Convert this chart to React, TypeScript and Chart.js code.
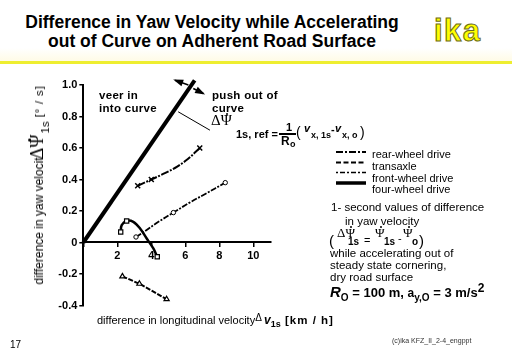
import React, { useEffect, useRef } from "react";
import { Chart, registerables } from "chart.js";

Chart.register(...registerables);

// ---------- data ----------
const xTicksStep = 2;
const yTicksStep = 0.2;
const xRange = [0, 11];
const yRange = [-0.4, 1.0];

// reference line  Δψ_1s,ref = (1/R0)·Δv
const refX = [0, 6.55];
const refY = [0, 1.03];

// rear-wheel drive (crosses)
const rearX = [3.2, 4.0, 4.8, 5.5, 6.15, 6.85];
const rearY = [0.36, 0.4, 0.44, 0.48, 0.53, 0.6];
const rearMarks = [1, 1, 0, 0, 0, 1];

// transaxle (small circles)
const transX = [3.1, 3.6, 4.4, 5.3, 6.2, 7.2, 8.35];
const transY = [0.035, 0.07, 0.13, 0.19, 0.25, 0.31, 0.38];
const transMarks = [1, 0, 0, 1, 0, 0, 1];

// front-wheel drive (squares)
const frontX = [2.2, 2.26, 2.55, 2.94, 3.34, 3.73, 4.12, 4.35];
const frontY = [0.067, 0.11, 0.137, 0.131, 0.089, 0.025, -0.038, -0.091];
const frontMarks = [1, 0, 1, 0, 0, 0, 0, 1];

// four-wheel drive (triangles)
const fourX = [2.3, 3.3, 4.1, 4.9];
const fourY = [-0.215, -0.262, -0.31, -0.36];
const fourMarks = [1, 1, 0, 1];

// annotation arrows near the top of the reference line [x0,y0,x1,y1]
const veerArrow = [6.18, 1.0, 5.4, 1.03];
const pushArrow = [6.47, 0.978, 7.06, 0.946];
// leader line from the reference line to its label
const leader = [5.58, 0.83, 7.45, 0.713];

const legendNames = ["rear-wheel drive", "transaxle", "front-wheel drive", "four-wheel drive"];
const legendDash = [[7, 2, 2, 2], [5, 2.5], [2, 2, 5, 2], []];
const legendWidth = [2, 2, 1.5, 3.5];
const legendTextY = [154, 166.5, 178.5, 189];
const legendLineY = [152, 162.5, 172.5, 183];

const pts = (xs: number[], ys: number[]) => xs.map((x, i) => ({ x, y: ys[i] }));
const radii = (m: number[], r: number) => m.map((v) => (v ? r : 0));

const SANS = '"Liberation Sans", Arial, sans-serif';
const SERIF = '"Liberation Serif", "Times New Roman", serif';

const T = ({ x, y, s = 11, b = false, i = false, ff = SANS, st = {}, children }: any) => (
  <div
    style={{
      position: "absolute",
      left: x,
      top: y - s * 0.5,
      fontSize: s,
      lineHeight: 1,
      fontWeight: b ? "bold" : "normal",
      fontStyle: i ? "italic" : "normal",
      fontFamily: ff,
      whiteSpace: "nowrap",
      color: "#000",
      ...st,
    }}
  >
    {children}
  </div>
);

// Ψ with a dot above (time derivative)
const PsiDot = () => (
  <span style={{ position: "relative", display: "inline-block" }}>
    {"\u03A8"}
    <span
      style={{
        position: "absolute",
        left: "50%",
        top: "0.02em",
        width: "0.17em",
        height: "0.17em",
        marginLeft: "-0.02em",
        background: "#000",
        borderRadius: "50%",
      }}
    />
  </span>
);

export default function App() {
  const ref = useRef<HTMLCanvasElement>(null);

  useEffect(() => {
    const canvas = ref.current!;
    const decor = {
      id: "decor",
      afterDatasetsDraw(chart: any) {
        const { ctx, scales } = chart;
        const X = (v: number) => scales.x.getPixelForValue(v);
        const Y = (v: number) => scales.y.getPixelForValue(v);
        ctx.save();
        ctx.strokeStyle = "#000";
        ctx.fillStyle = "#000";
        const arrow = (a: number[]) => {
          const x0 = X(a[0]), y0 = Y(a[1]), x1 = X(a[2]), y1 = Y(a[3]);
          const ang = Math.atan2(y1 - y0, x1 - x0);
          ctx.lineWidth = 1.5;
          ctx.beginPath();
          ctx.moveTo(x0, y0);
          ctx.lineTo(x1, y1);
          ctx.stroke();
          const L = 8, W = 3.5;
          ctx.beginPath();
          ctx.moveTo(x1 + Math.cos(ang) * 2, y1 + Math.sin(ang) * 2);
          ctx.lineTo(x1 - Math.cos(ang) * L + Math.sin(ang) * W, y1 - Math.sin(ang) * L - Math.cos(ang) * W);
          ctx.lineTo(x1 - Math.cos(ang) * L - Math.sin(ang) * W, y1 - Math.sin(ang) * L + Math.cos(ang) * W);
          ctx.closePath();
          ctx.fill();
        };
        arrow(veerArrow);
        arrow(pushArrow);
        ctx.lineWidth = 1;
        ctx.beginPath();
        ctx.moveTo(X(leader[0]), Y(leader[1]));
        ctx.lineTo(X(leader[2]), Y(leader[3]));
        ctx.stroke();
        // legend samples
        legendNames.forEach((_, i) => {
          ctx.setLineDash(legendDash[i]);
          ctx.lineWidth = legendWidth[i];
          ctx.beginPath();
          ctx.moveTo(336, legendLineY[i]);
          ctx.lineTo(366, legendLineY[i]);
          ctx.stroke();
        });
        ctx.setLineDash([]);
        ctx.restore();
      },
    };

    const tickFont = { family: SANS, size: 11, weight: "bold" as const };
    const base = {
      showLine: true,
      borderColor: "#000",
      pointBorderColor: "#000",
      pointBackgroundColor: "#fff",
      fill: false,
      tension: 0.35,
    };

    const chart = new Chart(canvas, {
      type: "scatter",
      data: {
        datasets: [
          { ...base, label: "reference", data: pts(refX, refY), borderWidth: 4, pointRadius: 0, tension: 0, clip: false as any },
          { ...base, label: legendNames[0], data: pts(rearX, rearY), borderWidth: 2, borderDash: [8, 1.5, 2, 1.5], pointStyle: "crossRot", pointRadius: radii(rearMarks, 3.5), pointBorderWidth: 1.5 },
          { ...base, label: legendNames[1], data: pts(transX, transY), borderWidth: 1.8, borderDash: [6, 1.5, 2, 1.5], pointStyle: "circle", pointRadius: radii(transMarks, 2.2), pointBorderWidth: 1 },
          { ...base, label: legendNames[2], data: pts(frontX, frontY), borderWidth: 2.5, pointStyle: "rect", pointRadius: radii(frontMarks, 3), pointBorderWidth: 1.2 },
          { ...base, label: legendNames[3], data: pts(fourX, fourY), borderWidth: 2, borderDash: [5, 1.5], pointStyle: "triangle", pointRadius: radii(fourMarks, 3), pointBorderWidth: 1.2, tension: 0 },
        ],
      },
      options: {
        responsive: false,
        animation: false,
        events: [],
        layout: { padding: { left: 43.3, top: 85, right: 241.7, bottom: 48.5 } },
        plugins: { legend: { display: false }, tooltip: { enabled: false }, title: { display: false } },
        scales: {
          x: {
            type: "linear",
            min: xRange[0],
            max: xRange[1],
            position: { y: 0 } as any,
            grid: { display: true, drawOnChartArea: false, drawTicks: true, tickLength: 4, color: "#000", lineWidth: 1.5 },
            border: { display: true, color: "#000", width: 2 },
            ticks: {
              stepSize: xTicksStep,
              includeBounds: false,
              padding: 3,
              color: "#000",
              font: tickFont,
              maxRotation: 0,
              callback: (v: any) => (Number(v) === 0 ? "" : String(v)),
            },
            afterFit: (s: any) => {
              s.height = 0;
            },
          },
          y: {
            type: "linear",
            min: yRange[0],
            max: yRange[1],
            grid: { display: true, drawOnChartArea: false, drawTicks: true, tickLength: 4, color: "#000", lineWidth: 1.5 },
            border: { display: true, color: "#000", width: 2 },
            ticks: {
              stepSize: yTicksStep,
              padding: 2,
              color: "#000",
              font: tickFont,
              callback: (v: any) => {
                const n = Math.round(Number(v) * 10) / 10;
                return n === 0 ? "0" : n.toFixed(1);
              },
            },
            afterFit: (s: any) => {
              s.width = 40;
            },
          },
        },
      },
      plugins: [decor],
    });
    return () => chart.destroy();
  }, []);

  return (
    <div style={{ position: "fixed", left: 0, top: 0, width: 512, height: 354, background: "#fff", overflow: "hidden", fontFamily: SANS }}>
      {/* header */}
      <div style={{ position: "absolute", left: 0, top: 48, width: 512, height: 13, background: "linear-gradient(#ffffff, #fffbe6)" }} />
      <div style={{ position: "absolute", left: 0, top: 61, width: 512, height: 3, background: "#eeee30" }} />
      <div style={{ position: "absolute", left: 0, top: 13, width: 424, textAlign: "center", fontSize: 17.5, fontWeight: "bold", lineHeight: "19px", color: "#000", fontFamily: SANS }}>
        Difference in Yaw Velocity while Accelerating
        <br />
        out of Curve on Adherent Road Surface
      </div>
      <div style={{ position: "absolute", left: 434, top: 15, fontSize: 31, fontWeight: "bold", letterSpacing: 1.5, lineHeight: 1, color: "#ffff00", WebkitTextStroke: "1px #6b6b20", fontFamily: SANS }}>
        ika
      </div>

      <canvas ref={ref} width={512} height={354} style={{ position: "absolute", left: 0, top: 0, width: 512, height: 354 }} />

      {/* y-axis title */}
      <div style={{ position: "absolute", left: 37, top: 185, transform: "translate(-50%, -50%) rotate(-90deg)", whiteSpace: "nowrap", fontSize: 12, lineHeight: 1, fontFamily: SANS }}>
        difference in yaw velocit
        <span style={{ fontFamily: SERIF, fontSize: 18, marginLeft: -2 }}>
          {"\u0394"}
          <PsiDot />
        </span>
        <span style={{ fontSize: 11.5, position: "relative", top: 6, marginLeft: 1 }}>1s</span>
        <span style={{ fontSize: 11.5, letterSpacing: 0.8 }}> [° / s]</span>
      </div>

      {/* x-axis title */}
      <div style={{ position: "absolute", left: 97, top: 314, whiteSpace: "nowrap", fontSize: 11, lineHeight: 1, fontFamily: SANS }}>
        difference in longitudinal velocity
        <span style={{ fontSize: 10, position: "relative", top: -3 }}>{"\u0394 "}</span>
        <span style={{ fontSize: 12, fontWeight: "bold", fontStyle: "italic" }}>v</span>
        <span style={{ fontSize: 9, fontWeight: "bold", position: "relative", top: 3 }}>1s</span>
        <span style={{ fontWeight: "bold", fontSize: 11.5, letterSpacing: 1 }}> [km / h]</span>
      </div>

      {/* in-plot labels */}
      <T x={99} y={96} s={11.5} b st={{ letterSpacing: 0.3 }}>veer in</T>
      <T x={99} y={109} s={11.5} b st={{ letterSpacing: 0.3 }}>into curve</T>
      <T x={212} y={96} s={11.5} b st={{ letterSpacing: 0.3 }}>push out of</T>
      <T x={212} y={109} s={11.5} b st={{ letterSpacing: 0.3 }}>curve</T>

      {/* reference formula */}
      <T x={211} y={120} s={15} ff={SERIF}>
        {"\u0394"}
        <PsiDot />
      </T>
      <T x={236} y={134} s={11} b>1s, ref =</T>
      <T x={286} y={127} s={11} b>1</T>
      <div style={{ position: "absolute", left: 279, top: 133, width: 17, height: 1.5, background: "#000" }} />
      <T x={281} y={141} s={12} b>R</T>
      <T x={290} y={144} s={9} b>o</T>
      <T x={296} y={132} s={14}>(</T>
      <T x={304} y={128} s={11} b i>v</T>
      <T x={311} y={135} s={9} b>x, 1s</T>
      <T x={331} y={129} s={11} b>-</T>
      <T x={335} y={128} s={11} b i>v</T>
      <T x={342} y={135} s={9} b>x, o</T>
      <T x={360} y={132} s={14}>)</T>

      {/* legend texts */}
      {legendNames.map((n, i) => (
        <T key={n} x={372} y={legendTextY[i]} s={11}>
          {n}
        </T>
      ))}

      {/* notes */}
      <T x={331} y={208} s={11.5}>1- second values of difference</T>
      <T x={345} y={222} s={11.5}>in yaw velocity</T>
      <T x={329} y={240} s={15}>(</T>
      <T x={337} y={232} s={13} ff={SERIF}>
        {"\u0394"}
        <PsiDot />
      </T>
      <T x={348} y={242} s={10} b>1s</T>
      <T x={364} y={240} s={11}>=</T>
      <T x={375} y={232} s={13} ff={SERIF}>
        <PsiDot />
      </T>
      <T x={384} y={242} s={10} b>1s</T>
      <T x={398} y={238} s={11}>-</T>
      <T x={403} y={232} s={13} ff={SERIF}>
        <PsiDot />
      </T>
      <T x={412} y={242} s={10} b>o</T>
      <T x={419} y={240} s={15}>)</T>
      <T x={330} y={254} s={11.5}>while accelerating out of</T>
      <T x={330} y={266} s={11.5}>steady state cornering,</T>
      <T x={330} y={278} s={11.5}>dry road surface</T>
      <div style={{ position: "absolute", left: 330, top: 284, whiteSpace: "nowrap", fontSize: 13, fontWeight: "bold", lineHeight: 1, fontFamily: SANS }}>
        <span style={{ fontSize: 15, fontStyle: "italic" }}>R</span>
        <span style={{ fontSize: 10, position: "relative", top: 4 }}>O</span>
        <span> = 100 m, </span>
        <span style={{ fontSize: 12 }}>a</span>
        <span style={{ fontSize: 10, position: "relative", top: 4 }}>y,O</span>
        <span> = 3 m/s</span>
        <span style={{ fontSize: 12, position: "relative", top: -5 }}>2</span>
      </div>

      {/* footer */}
      <T x={10} y={345} s={10}>17</T>
      <T x={392} y={340} s={7} st={{ color: "#333" }}>(c)ika KFZ_II_2-4_engppt</T>
    </div>
  );
}
